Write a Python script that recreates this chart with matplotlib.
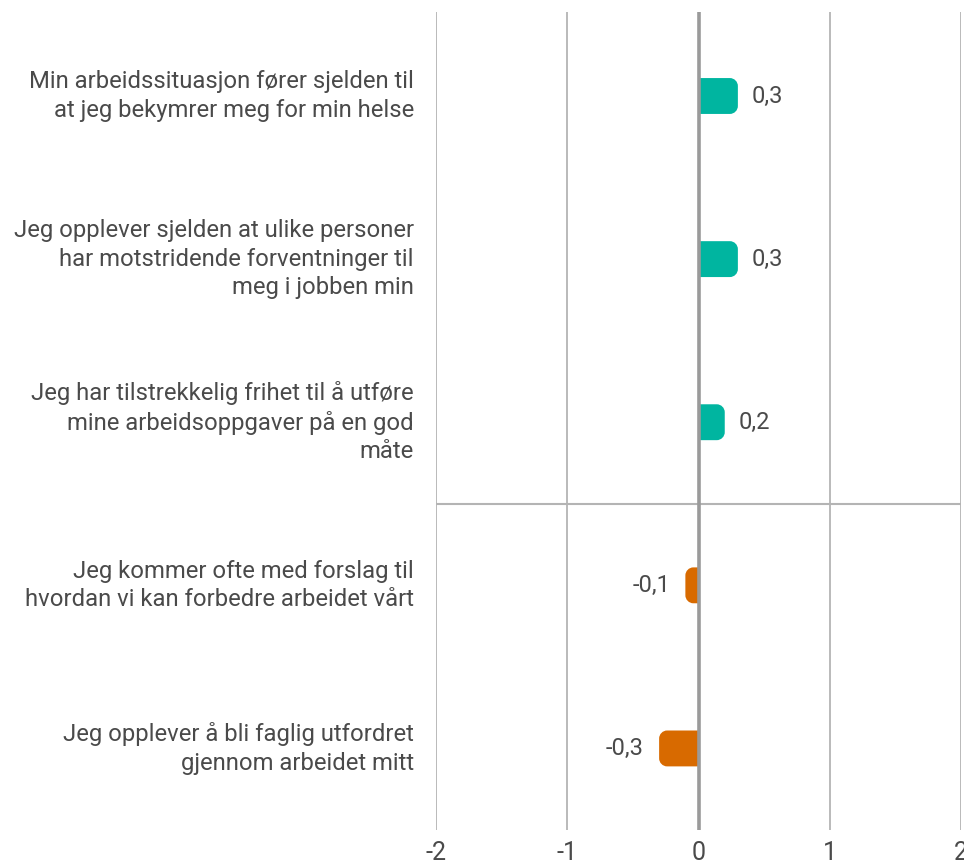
import numpy as np
import matplotlib.pyplot as plt
from matplotlib.path import Path
from matplotlib.patches import PathPatch

plt.rcParams['font.family'] = ['Roboto', 'DejaVu Sans']

# ---------------------------------------------------------
# Data
# ---------------------------------------------------------
statements = [
    'Min arbeidssituasjon fører sjelden til\nat jeg bekymrer meg for min helse',
    'Jeg opplever sjelden at ulike personer\nhar motstridende forventninger til\nmeg i jobben min',
    'Jeg har tilstrekkelig frihet til å utføre\nmine arbeidsoppgaver på en god\nmåte',
    'Jeg kommer ofte med forslag til\nhvordan vi kan forbedre arbeidet vårt',
    'Jeg opplever å bli faglig utfordret\ngjennom arbeidet mitt',
]
scores = [0.3, 0.3, 0.2, -0.1, -0.3]
value_labels = ['0,3', '0,3', '0,2', '-0,1', '-0,3']
xticks = [-2, -1, 0, 1, 2]

POS_COL = '#00B5A0'
NEG_COL = '#D86A00'
TXT_COL = '#4a4a4a'
GRID_COL = '#b4b4b4'

fig = plt.figure(figsize=(9.64, 8.64), dpi=100)
ax = fig.add_axes([436/964, 34/864, 525/964, 818/864])

ypos = np.arange(len(scores))
ax.set_xlim(-2, 2)
ax.set_ylim(4.5, -0.515)

# grid
for t in xticks:
    if t == 0:
        ax.axvline(t, color='#9a9a9a', lw=2.6, zorder=3)
    else:
        ax.axvline(t, color=GRID_COL, lw=1.3, zorder=0)
ax.axhline(2.5, color=GRID_COL, lw=1.5, zorder=0)

# bars, with rounded outer end
bar_h = 0.22
bars = ax.barh(ypos, scores, height=bar_h, color='none')
fig.canvas.draw()
px_x = ax.transData.transform((1, 0))[0] - ax.transData.transform((0, 0))[0]
px_y = abs(ax.transData.transform((0, 1))[1] - ax.transData.transform((0, 0))[1])
r_px = 8.0
k = 0.5523
for b, v in zip(bars, scores):
    b.set_visible(False)
    y0 = b.get_y()
    y1 = y0 + b.get_height()
    x_end = v
    s = np.sign(v)
    rx = min(r_px / px_x, abs(v))
    ry = r_px / px_y
    xe = x_end - s * rx
    verts = [(0, y0), (xe, y0),
             (xe + s * rx * k, y0), (x_end, y0 + ry * (1 - k)), (x_end, y0 + ry),
             (x_end, y1 - ry),
             (x_end, y1 - ry * (1 - k)), (xe + s * rx * k, y1), (xe, y1),
             (0, y1), (0, y0)]
    codes = [Path.MOVETO, Path.LINETO,
             Path.CURVE4, Path.CURVE4, Path.CURVE4,
             Path.LINETO,
             Path.CURVE4, Path.CURVE4, Path.CURVE4,
             Path.LINETO, Path.CLOSEPOLY]
    col = POS_COL if v > 0 else NEG_COL
    ax.add_patch(PathPatch(Path(verts, codes), facecolor=col, edgecolor='none', zorder=2))

# value labels
for y, v, lab in zip(ypos, scores, value_labels):
    if v > 0:
        ax.annotate(lab, (v, y), xytext=(10, 0), textcoords='offset points',
                    ha='left', va='center', fontsize=17, color=TXT_COL)
    else:
        ax.annotate(lab, (v, y), xytext=(-11, 0), textcoords='offset points',
                    ha='right', va='center', fontsize=17, color=TXT_COL)

ax.set_yticks(ypos)
ax.set_yticklabels(statements, fontsize=17.2, color=TXT_COL, linespacing=1.3, va='center')
ax.set_xticks(xticks)
ax.set_xticklabels([str(t) for t in xticks], fontsize=18, color=TXT_COL)
ax.tick_params(length=0)
ax.tick_params(axis='y', pad=16)
ax.tick_params(axis='x', pad=8)
for sp in ax.spines.values():
    sp.set_visible(False)

fig.savefig('out.png', dpi=100)
